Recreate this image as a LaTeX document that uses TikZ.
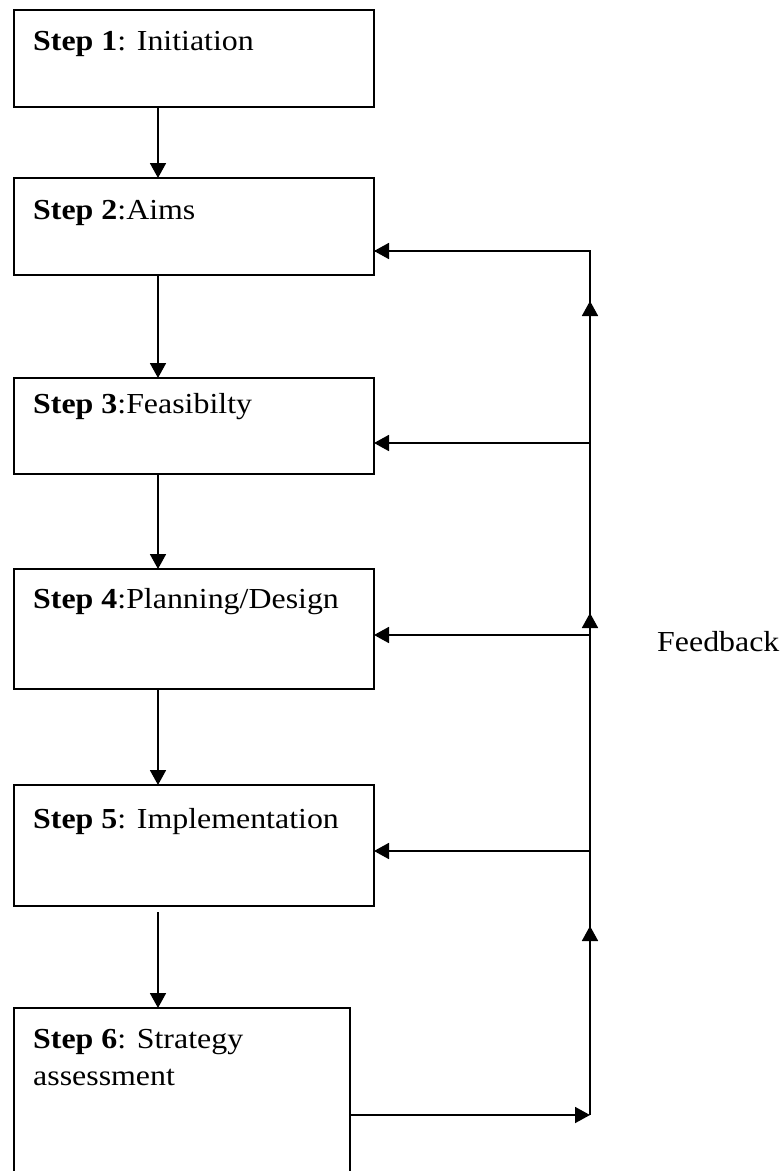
\documentclass[tikz,border=0pt]{standalone}
\usepackage{fontspec}
\setmainfont{Liberation Serif}[FakeStretch=1.1]
\usetikzlibrary{arrows.meta,positioning,calc}

\begin{document}
\begin{tikzpicture}[
  x=1pt, y=1pt,
  stepbox/.style={draw, line width=1.8pt, minimum width=360pt, inner sep=0pt, outer sep=0pt, anchor=north west},
  steptext/.style={anchor=base west, inner sep=0pt, align=left, font=\fontsize{29}{37}\selectfont},
  arr/.style={-{Triangle[length=15pt,width=16pt]}, line width=1.8pt},
  fbline/.style={line width=1.8pt}
]
\clip (0,0) rectangle (784,-1171);

% step boxes
\node[stepbox, minimum height=97pt] (init) at (14,-10) {};
\node[stepbox, minimum height=97pt, below=71pt of init.south west, anchor=north west] (aims) {};
\node[stepbox, minimum height=96pt, below=103pt of aims.south west, anchor=north west] (feas) {};
\node[stepbox, minimum height=120pt, below=95pt of feas.south west, anchor=north west] (plan) {};
\node[stepbox, minimum height=121pt, below=96pt of plan.south west, anchor=north west] (impl) {};
\node[stepbox, minimum width=336pt, minimum height=180pt, below=102pt of impl.south west, anchor=north west] (assess) {};

% texts
\node[steptext] (initlbl) at ([shift={(19,-40)}]init.north west) {\textbf{Step 1}: Initiation};
\node[steptext] (aimslbl) at ([shift={(19,-41)}]aims.north west) {\textbf{Step 2}:Aims};
\node[steptext] (feaslbl) at ([shift={(19,-35)}]feas.north west) {\textbf{Step 3}:Feasibilty};
\node[steptext] (planlbl) at ([shift={(19,-39)}]plan.north west) {\textbf{Step 4}:Planning/Design};
\node[steptext] (impllbl) at ([shift={(19,-43)}]impl.north west) {\textbf{Step 5}: Implementation};
\node[steptext] (assesslbl) at ([shift={(19,-77)}]assess.north west) {\textbf{Step 6}: Strategy\\assessment};
\node[steptext] (fbtext) at (657,-651) {Feedback};

% main chain
\coordinate (spine) at (158,0);
\draw[arr] (init.south -| spine) -- (aims.north -| spine);
\draw[arr] (aims.south -| spine) -- (feas.north -| spine);
\draw[arr] (feas.south -| spine) -- (plan.north -| spine);
\draw[arr] (plan.south -| spine) -- (impl.north -| spine);
\draw[arr, shorten <=6pt] (impl.south -| spine) -- (assess.north -| spine);

% feedback loop
\coordinate (fb2) at (590,-251); \coordinate (fb3) at (590,-443);
\coordinate (fb4) at (590,-635); \coordinate (fb5) at (590,-851);
\coordinate (fb6) at (590,-1115);
\coordinate (up2) at (590,-301); \coordinate (up4) at (590,-613);
\coordinate (up6) at (590,-926);
\draw[fbline] (fb6) -- (fb2) -- (fb2 -| aims.east);
\draw[arr] (fb6) -- (up6); \draw[arr] (fb4) -- (up4); \draw[arr] (fb3) -- (up2);
\draw[arr] (fb2) -- (fb2 -| aims.east); \draw[arr] (fb3) -- (fb3 -| feas.east);
\draw[arr] (fb4) -- (fb4 -| plan.east); \draw[arr] (fb5) -- (fb5 -| impl.east);
\draw[arr] (assess.east |- fb6) -- (fb6);
\end{tikzpicture}
\end{document}
